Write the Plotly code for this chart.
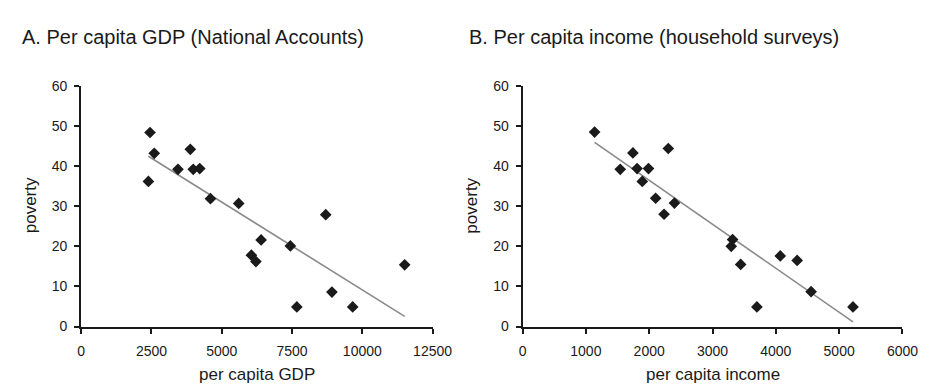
import numpy as np
import plotly.graph_objects as go

# ---- data ----
gdp_pc = [2449, 2599, 2391, 3882, 3443, 3986, 4217, 4598, 5603, 6400,
          6054, 6216, 7440, 8699, 7671, 8919, 9658, 11507]
poverty_a = [48.4, 43.2, 36.2, 44.2, 39.2, 39.2, 39.4, 31.9, 30.7, 21.6,
             17.8, 16.2, 20.1, 27.9, 4.9, 8.6, 4.9, 15.4]

income_pc = [1138, 1743, 2302, 1543, 1809, 1989, 1891, 2102, 2399, 2235,
             3317, 3296, 3445, 4070, 4337, 4557, 3701, 5218]
poverty_b = [48.5, 43.3, 44.4, 39.2, 39.4, 39.4, 36.2, 32.0, 30.8, 28.0,
             21.7, 20.0, 15.5, 17.6, 16.5, 8.7, 4.9, 4.9]

x_ticks_a = [0, 2500, 5000, 7500, 10000, 12500]
x_ticks_b = [0, 1000, 2000, 3000, 4000, 5000, 6000]
y_ticks = [0, 10, 20, 30, 40, 50, 60]

title_a = "A. Per capita GDP (National Accounts)"
title_b = "B. Per capita income (household surveys)"
xlabel_a = "per capita GDP"
xlabel_b = "per capita income"
ylabel = "poverty"

# ---- layout constants ----
W, H = 933, 385
FONT = "Liberation Sans, Arial, sans-serif"
DARK = "#1a1a1a"
GRAY = "#8a8a8a"


def px_x(p):
    return p / W


def px_y(p):
    return 1 - p / H


fig = go.Figure()


def add_panel(x, y, xa, ya):
    xs = np.array(x, dtype=float)
    ys = np.array(y, dtype=float)
    m, b = np.polyfit(xs, ys, 1)
    lx = np.array([xs.min(), xs.max()])
    fig.add_trace(go.Scatter(x=lx, y=m * lx + b, mode="lines",
                             line=dict(color=GRAY, width=1.6),
                             xaxis=xa, yaxis=ya, showlegend=False,
                             hoverinfo="skip"))
    fig.add_trace(go.Scatter(x=xs, y=ys, mode="markers",
                             marker=dict(symbol="diamond", size=9, color=DARK,
                                         line=dict(width=0)),
                             xaxis=xa, yaxis=ya, showlegend=False))


add_panel(gdp_pc, poverty_a, "x", "y")
add_panel(income_pc, poverty_b, "x2", "y2")

y_dom = [px_y(324), px_y(73)]

axis_common = dict(showline=True, linecolor=DARK, linewidth=2,
                   ticks="outside", ticklen=5, tickwidth=1.5, tickcolor=DARK,
                   showgrid=False, zeroline=False,
                   tickfont=dict(family=FONT, size=14, color=DARK))

fig.update_layout(
    width=W, height=H,
    margin=dict(l=0, r=0, t=0, b=0),
    paper_bgcolor="white", plot_bgcolor="white",
    font=dict(family=FONT, color=DARK),
    xaxis=dict(domain=[px_x(71), px_x(431.7)], range=[0, 12500],
               tickvals=x_ticks_a, ticktext=[str(v) for v in x_ticks_a],
               anchor="y", ticklabelstandoff=6, **axis_common),
    yaxis=dict(domain=y_dom, range=[0, 60], tickvals=y_ticks,
               anchor="x", ticklabelstandoff=4, **axis_common),
    xaxis2=dict(domain=[px_x(524), px_x(914)], range=[0, 6000],
                tickvals=x_ticks_b, ticktext=[str(v) for v in x_ticks_b],
                anchor="y2", ticklabelstandoff=6, **axis_common),
    yaxis2=dict(domain=y_dom, range=[0, 60], tickvals=y_ticks,
                anchor="x2", ticklabelstandoff=4, **axis_common),
)

annos = [
    dict(text=title_a, x=px_x(8), y=px_y(22), xanchor="left", yanchor="middle",
         font=dict(size=20)),
    dict(text=title_b, x=px_x(467), y=px_y(22), xanchor="left", yanchor="middle",
         font=dict(size=20)),
    dict(text=xlabel_a, x=px_x(251), y=px_y(374), xanchor="center", yanchor="middle",
         font=dict(size=17)),
    dict(text=xlabel_b, x=px_x(719), y=px_y(374), xanchor="center", yanchor="middle",
         font=dict(size=17)),
    dict(text=ylabel, x=px_x(19), y=px_y(198), xanchor="center", yanchor="middle",
         textangle=-90, font=dict(size=17)),
    dict(text=ylabel, x=px_x(472), y=px_y(198), xanchor="center", yanchor="middle",
         textangle=-90, font=dict(size=17)),
]
for a in annos:
    a.update(xref="paper", yref="paper", showarrow=False)
    a["font"].update(family=FONT, color=DARK)
fig.update_layout(annotations=annos)

fig.write_html("out.html")
